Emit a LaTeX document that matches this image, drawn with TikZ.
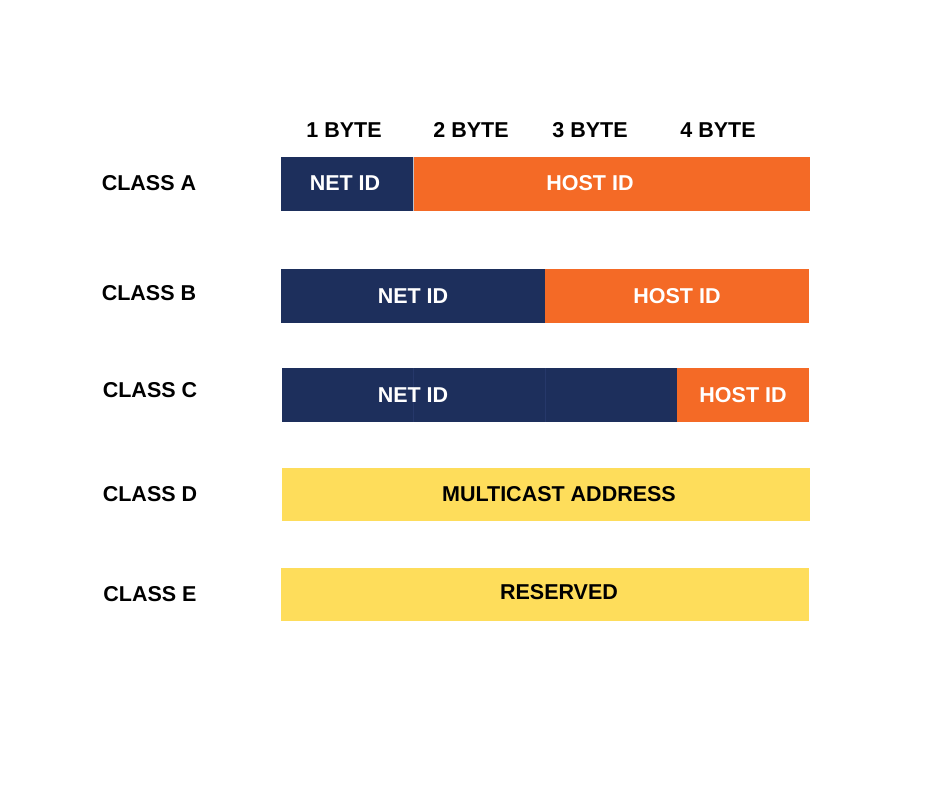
\documentclass[tikz,border=0pt]{standalone}
\usepackage{fontspec}
\setmainfont{Liberation Sans}
\begin{document}
\begin{tikzpicture}[x=1pt,y=-1pt,
  lbl/.style={font=\fontsize{21.5}{24}\selectfont\bfseries, inner sep=0pt, anchor=center},
  wlbl/.style={lbl, text=white},
  netseg/.style={fill=navyc, draw=none},
  hostseg/.style={fill=orangec, draw=none},
  yelseg/.style={fill=yellowc, draw=none},
  divline/.style={draw=navyl, line width=0.6pt}]
\definecolor{navyc}{HTML}{1D2F5C}
\definecolor{navyl}{HTML}{26386A}
\definecolor{orangec}{HTML}{F46A26}
\definecolor{yellowc}{HTML}{FEDD5B}
\useasboundingbox (0,0) rectangle (940,788);
\fill[white] (0,0) rectangle (940,788);

% byte headers
\node[lbl] (b1) at (344,130) {1 BYTE};
\node[lbl] (b2) at (471,130) {2 BYTE};
\node[lbl] (b3) at (590,130) {3 BYTE};
\node[lbl] (b4) at (718,130) {4 BYTE};

% class labels
\node[lbl] (ca) at (149,183) {CLASS A};
\node[lbl] (cb) at (149,293) {CLASS B};
\node[lbl] (cc) at (150,390) {CLASS C};
\node[lbl] (cd) at (150,494) {CLASS D};
\node[lbl] (ce) at (150,594) {CLASS E};

% class A
\fill[netseg] (281,157) rectangle (413,211);
\fill[hostseg] (413,157) rectangle (810,211);
\draw[draw=white!70!navyc, line width=0.6pt] (413,157) -- (413,211);
\node[wlbl] (anet) at (345,183) {NET ID};
\node[wlbl] (ahost) at (590,183) {HOST ID};

% class B
\fill[netseg] (281,269) rectangle (545,323);
\fill[hostseg] (545,269) rectangle (809,323);
\node[wlbl] (bnet) at (413,296) {NET ID};
\node[wlbl] (bhost) at (677,296) {HOST ID};

% class C
\fill[netseg] (282,368) rectangle (677,422);
\fill[hostseg] (677,368) rectangle (809,422);
\draw[divline] (413,368) -- (413,422);
\draw[divline] (545,368) -- (545,422);
\node[wlbl] (cnet) at (413,395) {NET ID};
\node[wlbl] (chost) at (743,395) {HOST ID};

% class D
\fill[yelseg] (282,468) rectangle (810,521);
\node[lbl] (dm) at (559,494) {MULTICAST ADDRESS};

% class E
\fill[yelseg] (281,568) rectangle (809,621);
\node[lbl] (er) at (559,592) {RESERVED};
\end{tikzpicture}
\end{document}
